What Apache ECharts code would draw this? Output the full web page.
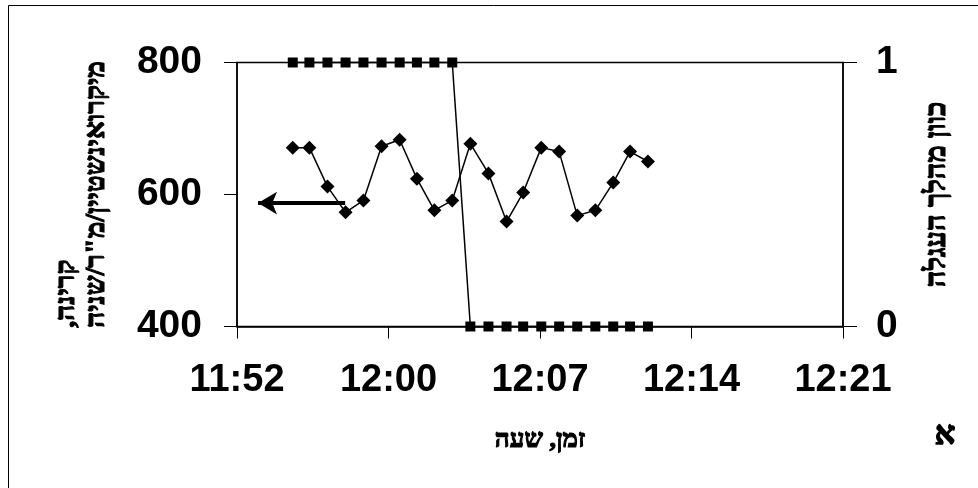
<!DOCTYPE html>
<html>
<head>
<meta charset="utf-8">
<script src="https://cdn.jsdelivr.net/npm/echarts@6/dist/echarts.min.js"></script>
<style>
html,body{margin:0;padding:0;background:#fff;}
#chart{width:978px;height:488px;}
</style>
</head>
<body>
<div id="chart"></div>
<script>
// time of each sample, minutes after midnight
const times = [715.45, 716.24, 717.10, 717.96, 718.81, 719.67, 720.53, 721.35, 722.18, 723.03, 723.89, 724.75, 725.61, 726.40, 727.26, 728.11, 728.97, 729.83, 730.68, 731.48, 732.33];
// radiation (left axis)
const radiation = [671, 671, 612, 573, 591, 673, 683, 624, 576, 591, 677, 632, 559, 603, 671, 665, 568, 576, 618, 665, 650];
// cart direction (right axis)
const direction = [1, 1, 1, 1, 1, 1, 1, 1, 1, 1, 0, 0, 0, 0, 0, 0, 0, 0, 0, 0, 0];
// x axis range (minutes) and ticks
const xMin = 712.8, xMax = 741.6, xStep = 7.2;
const leftTicks = [400, 600, 800];
const rightTicks = [0, 1];
// annotation arrow pointing to the left axis [time, value]
const arrowFrom = [717.94, 587];
const arrowTo = [713.8, 587];

const titleX = 'זמן, שעה';
const titleLeft1 = 'קרינה,\u200F';
const titleLeft2 = 'מיקרואינשטיין/מ"ר/שניה';
const titleRight = 'כוון מהלך העגלה';
const cornerMark = 'א';

function fmtTime(v) {
  const m = Math.floor(v + 1e-6);
  const h = Math.floor(m / 60);
  const mm = m % 60;
  return h + ':' + (mm < 10 ? '0' : '') + mm;
}

const sans = '"Liberation Sans", Arial, sans-serif';
const serif = '"Liberation Serif", "Times New Roman", serif';
const black = '#000';
const heb = {fontWeight: 'bold', fontFamily: serif, color: black, textBorderColor: black, textBorderWidth: 1.1};

const chart = echarts.init(document.getElementById('chart'), null, {renderer: 'canvas'});
chart.setOption({
  animation: false,
  backgroundColor: '#fff',
  grid: {left: 237, top: 62.5, right: 135, bottom: 161.5, show: true, borderColor: black, borderWidth: 1.5, containLabel: false},
  graphic: [
    {type: 'rect', shape: {x: 8.5, y: 5.5, width: 1100, height: 1100}, style: {fill: 'none', stroke: black, lineWidth: 1}, silent: true},
    {type: 'text', left: 934, top: 419, style: {text: cornerMark, font: 'bold 32px ' + serif, fill: black, stroke: black, lineWidth: 1.4}}
  ],
  xAxis: {
    type: 'value', min: xMin, max: xMax, interval: xStep,
    axisLine: {onZero: false, lineStyle: {color: black, width: 1.5}},
    axisTick: {show: true, length: 12, lineStyle: {color: black, width: 1}},
    splitLine: {show: false},
    axisLabel: {formatter: fmtTime, fontSize: 38, fontWeight: 'bold', fontFamily: sans, color: black, margin: 35, showMinLabel: true, showMaxLabel: true},
    name: titleX, nameLocation: 'middle', nameGap: 101,
    nameTextStyle: Object.assign({fontSize: 26}, heb)
  },
  yAxis: [
    {
      type: 'value', min: leftTicks[0], max: leftTicks[leftTicks.length - 1], interval: leftTicks[1] - leftTicks[0], position: 'left',
      axisLine: {show: true, lineStyle: {color: black, width: 1.5}},
      axisTick: {show: true, length: 13, lineStyle: {color: black, width: 1}},
      splitLine: {show: false},
      axisLabel: {fontSize: 39, fontWeight: 'bold', fontFamily: sans, color: black, margin: 35},
      name: '{a|' + titleLeft1 + '}\n{b|' + titleLeft2 + '}', nameLocation: 'middle', nameRotate: 90, nameGap: 125,
      nameTextStyle: Object.assign({fontSize: 28, lineHeight: 30, rich: {
        a: Object.assign({fontSize: 28, lineHeight: 30, align: 'left'}, heb),
        b: Object.assign({fontSize: 28, lineHeight: 30}, heb)
      }}, heb)
    },
    {
      type: 'value', min: rightTicks[0], max: rightTicks[rightTicks.length - 1], interval: rightTicks[1] - rightTicks[0], position: 'right',
      axisLine: {show: true, lineStyle: {color: black, width: 1.5}},
      axisTick: {show: true, length: 14, lineStyle: {color: black, width: 1}},
      splitLine: {show: false},
      axisLabel: {fontSize: 39, fontWeight: 'bold', fontFamily: sans, color: black, margin: 33},
      name: titleRight, nameLocation: 'middle', nameRotate: 90, nameGap: 80,
      nameTextStyle: Object.assign({fontSize: 29}, heb)
    }
  ],
  series: [
    {
      type: 'line', yAxisIndex: 0, clip: false,
      data: times.map((t, i) => [t, radiation[i]]),
      symbol: 'diamond', symbolSize: 14,
      lineStyle: {color: black, width: 1.5},
      itemStyle: {color: black},
      markLine: {
        silent: true, symbol: ['none', 'arrow'], symbolSize: [17, 19],
        label: {show: false},
        lineStyle: {color: black, width: 4, type: 'solid'},
        data: [[{coord: arrowFrom}, {coord: arrowTo}]]
      }
    },
    {
      type: 'line', yAxisIndex: 1, clip: false,
      data: times.map((t, i) => [t, direction[i]]),
      symbol: 'rect', symbolSize: 10,
      lineStyle: {color: black, width: 1.5},
      itemStyle: {color: black}
    }
  ]
});
</script>
</body>
</html>
